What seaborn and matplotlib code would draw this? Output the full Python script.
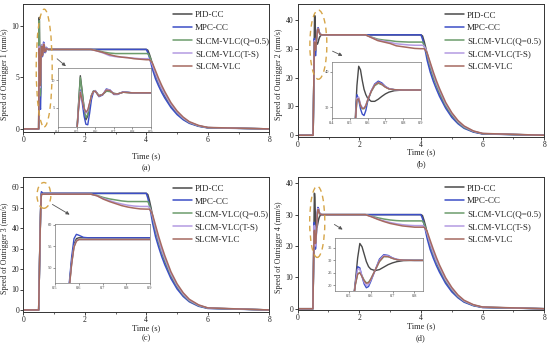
import numpy as np
import pandas as pd
import matplotlib
matplotlib.use("Agg")
import matplotlib.pyplot as plt
import seaborn as sns
from matplotlib.patches import Ellipse
from matplotlib.lines import Line2D

sns.set_style("ticks")
plt.rcParams['font.family'] = ['Liberation Serif', 'DejaVu Serif']

W, H = 550, 346

methods = ["PID-CC", "MPC-CC", "SLCM-VLC(Q=0.5)", "SLCM-VLC(T-S)", "SLCM-VLC"]
colors = ["#4a4a4a", "#3c4ec6", "#6c9c6c", "#b49be2", "#a66a60"]

# common time base (s)
time_s = [0, 0.5, 0.51, 0.52, 0.53, 0.54, 0.55, 0.56, 0.57, 0.58, 0.59, 0.6,
          0.62, 0.64, 0.66, 0.68, 0.7, 0.72, 0.75, 0.8, 0.9, 1.0,
          2.0, 2.2, 2.4, 2.6, 2.8, 3.0, 3.2, 3.4, 3.6, 3.8, 4.0,
          4.05, 4.1, 4.15, 4.2, 4.3, 4.4, 4.5, 4.6, 4.8, 5.0, 5.2, 5.4, 5.7, 6.0, 8.0]

# ---- outrigger 1 (mm/s)
pid_1 = [0, 0, 5.5, 10.8, 8.0, 5.0, 2.8, 3.5, 5.5, 7.2, 8.0, 8.1, 7.2, 7.4, 8.0, 8.0, 7.6, 7.5, 7.8, 7.7, 7.7, 7.7,
         7.7, 7.7, 7.7, 7.7, 7.7, 7.7, 7.7, 7.7, 7.7, 7.7, 7.7,
         7.62, 7.24, 6.78, 6.24, 5.24, 4.47, 3.85, 3.23, 2.23, 1.54, 0.96, 0.6, 0.28, 0.12, 0]
mpc_1 = [0, 0, 4.5, 8.2, 6.0, 3.5, 2.0, 1.9, 4.0, 6.5, 7.8, 8.1, 7.0, 7.3, 8.4, 8.2, 7.4, 7.4, 7.9, 7.7, 7.7, 7.7,
         7.7, 7.7, 7.7, 7.7, 7.7, 7.7, 7.7, 7.7, 7.7, 7.7, 7.7,
         7.39, 6.93, 6.39, 5.78, 4.85, 4.16, 3.54, 3.0, 2.08, 1.39, 0.89, 0.54, 0.25, 0.1, 0]
q05_1 = [0, 0, 5.3, 10.5, 7.8, 5.2, 3.2, 3.8, 5.7, 7.3, 8.0, 8.0, 7.2, 7.4, 8.0, 7.9, 7.6, 7.5, 7.8, 7.7, 7.7, 7.7,
         7.7, 7.7, 7.6, 7.45, 7.35, 7.3, 7.3, 7.3, 7.3, 7.3, 7.3,
         7.3, 7.08, 6.72, 6.28, 5.4, 4.6, 3.94, 3.36, 2.34, 1.61, 1.02, 0.62, 0.29, 0.12, 0]
ts_1 = [0, 0, 4.8, 8.0, 6.5, 4.8, 4.0, 4.4, 5.8, 7.2, 7.9, 8.1, 7.1, 7.4, 8.3, 8.2, 7.5, 7.45, 7.85, 7.7, 7.7, 7.7,
        7.7, 7.7, 7.55, 7.35, 7.1, 7.0, 6.95, 6.9, 6.85, 6.8, 6.8,
        6.8, 6.73, 6.53, 6.19, 5.37, 4.62, 3.94, 3.4, 2.38, 1.63, 1.05, 0.65, 0.31, 0.13, 0]
vlc_1 = [0, 0, 4.7, 7.8, 6.4, 4.9, 4.2, 4.6, 5.9, 7.2, 7.9, 8.0, 7.1, 7.4, 8.2, 8.1, 7.5, 7.5, 7.8, 7.7, 7.7, 7.7,
         7.7, 7.7, 7.55, 7.4, 7.2, 7.05, 6.95, 6.9, 6.8, 6.75, 6.7,
         6.7, 6.7, 6.57, 6.37, 5.63, 4.89, 4.22, 3.62, 2.55, 1.74, 1.14, 0.7, 0.34, 0.14, 0]

# ---- outrigger 2
pid_2 = [0, 0, 8, 16, 26, 36, 41.5, 40.5, 37.5, 35, 33.5, 32.5, 31.6, 31.6, 32.2, 33.0, 33.7, 34.2, 34.6, 34.8, 34.8, 34.8,
         34.8, 34.8, 34.8, 34.8, 34.8, 34.8, 34.8, 34.8, 34.8, 34.8, 34.8,
         34.4, 32.6, 30.5, 28.1, 23.6, 20.1, 17.4, 14.6, 10.1, 6.9, 4.3, 2.7, 1.25, 0.5, 0]
mpc_2 = [0, 0, 8, 16, 25, 33.5, 32.0, 29.5, 28.0, 27.6, 29.0, 31.5, 34.5, 36.5, 37.3, 36.8, 35.8, 35.2, 34.9, 34.8, 34.8, 34.8,
         34.8, 34.8, 34.8, 34.8, 34.8, 34.8, 34.8, 34.8, 34.8, 34.8, 34.8,
         33.3, 31.2, 28.8, 26.0, 21.9, 18.7, 16.0, 13.5, 9.4, 6.2, 4.0, 2.4, 1.1, 0.45, 0]
q05_2 = [0, 0, 8, 16, 25, 32, 32.5, 30.5, 29.5, 29.5, 30.3, 31.8, 34.3, 36.0, 36.7, 36.3, 35.6, 35.1, 34.9, 34.8, 34.8, 34.8,
         34.8, 34.8, 34.0, 33.3, 33.0, 32.8, 32.5, 32.4, 32.3, 32.3, 32.3,
         32.3, 31.3, 29.7, 27.8, 23.9, 20.3, 17.4, 14.9, 10.3, 7.1, 4.5, 2.7, 1.3, 0.55, 0]
ts_2 = [0, 0, 8, 16, 25, 32.5, 32.8, 30.8, 29.8, 29.7, 30.5, 32, 34.5, 36.3, 37.0, 36.5, 35.7, 35.2, 34.9, 34.8, 34.8, 34.8,
        34.8, 34.8, 33.9, 33.0, 32.6, 32.2, 31.7, 31.5, 31.3, 31.2, 31.2,
        31.2, 30.9, 30.0, 28.4, 24.6, 21.2, 18.1, 15.6, 10.9, 7.5, 4.8, 3.0, 1.4, 0.6, 0]
vlc_2 = [0, 0, 8, 16, 25, 32, 32.3, 30.5, 29.6, 29.6, 30.4, 31.9, 34.4, 36.2, 36.9, 36.4, 35.6, 35.1, 34.9, 34.8, 34.8, 34.8,
         34.8, 34.8, 33.8, 32.8, 32.3, 31.8, 31.0, 30.7, 30.4, 30.1, 30.0,
         30.0, 30.0, 29.4, 28.5, 25.2, 21.9, 18.9, 16.2, 11.4, 7.8, 5.1, 3.2, 1.5, 0.63, 0]

# ---- outrigger 3
pid_3 = [0, 0, 8, 16, 24, 32, 39.5, 46, 51.5, 55.5, 56.8, 57.0, 57, 57, 57, 57, 57, 57, 57, 57, 57, 57,
         57, 57, 57, 57, 57, 57, 57, 57, 57, 57, 57,
         56.4, 53.6, 50.2, 46.2, 38.8, 33.1, 28.5, 23.9, 16.5, 11.4, 7.1, 4.4, 2.1, 0.86, 0]
mpc_3 = [0, 0, 8, 16, 24, 32, 39.5, 46.5, 52.5, 56.8, 57.8, 57.6, 57.1, 57.0, 57, 57, 57, 57, 57, 57, 57, 57,
         57, 57, 57, 57, 57, 57, 57, 57, 57, 57, 57,
         54.7, 51.3, 47.3, 42.8, 35.9, 30.8, 26.2, 22.2, 15.4, 10.3, 6.6, 4.0, 1.8, 0.74, 0]
q05_3 = [0, 0, 8, 16, 24, 32, 39, 45.5, 51, 55, 56.3, 56.6, 56.6, 56.6, 56.6, 56.6, 56.6, 56.6, 56.6, 56.6, 56.6, 56.6,
         56.6, 56.6, 56.0, 55.0, 54.3, 53.8, 53.3, 53.0, 53.0, 53.0, 53.0,
         53.0, 51.4, 48.8, 45.6, 39.2, 33.4, 28.6, 24.4, 17.0, 11.7, 7.4, 4.5, 2.1, 0.9, 0]
ts_3 = [0, 0, 8, 16, 24, 32, 39, 45.5, 51, 55, 56.3, 56.6, 56.6, 56.6, 56.6, 56.6, 56.6, 56.6, 56.6, 56.6, 56.6, 56.6,
        56.6, 56.6, 55.8, 54.5, 53.5, 52.5, 51.8, 51.2, 50.8, 50.6, 50.6,
        50.6, 50.1, 48.6, 46.0, 40.0, 34.4, 29.3, 25.3, 17.7, 12.1, 7.8, 4.8, 2.3, 0.96, 0]
vlc_3 = [0, 0, 8, 16, 24, 32, 39, 45.3, 50.8, 54.8, 56.2, 56.6, 56.6, 56.6, 56.6, 56.6, 56.6, 56.6, 56.6, 56.6, 56.6, 56.6,
         56.6, 56.6, 55.8, 54.2, 53.0, 52.0, 51.0, 50.3, 49.8, 49.4, 49.3,
         49.3, 49.3, 48.3, 46.8, 41.4, 36.0, 31.1, 26.6, 18.7, 12.8, 8.4, 5.2, 2.5, 1.0, 0]

# ---- outrigger 4
pid_4 = [0, 0, 7, 14, 22, 31, 36.8, 35.5, 32.5, 29.5, 27.5, 26.5, 25.9, 26.3, 27.3, 28.3, 29.0, 29.5, 29.9, 30, 30, 30,
         30, 30, 30, 30, 30, 30, 30, 30, 30, 30, 30,
         29.7, 28.2, 26.4, 24.3, 20.4, 17.4, 15.0, 12.6, 8.7, 6.0, 3.75, 2.3, 1.1, 0.45, 0]
mpc_4 = [0, 0, 7, 14, 21, 27.5, 27, 23.5, 20.5, 19.0, 19.5, 21.5, 26, 30.5, 32.3, 32.0, 31.0, 30.4, 30.1, 30, 30, 30,
         30, 30, 30, 30, 30, 30, 30, 30, 30, 30, 30,
         28.8, 27.0, 24.9, 22.5, 18.9, 16.2, 13.8, 11.7, 8.1, 5.4, 3.5, 2.1, 0.96, 0.39, 0]
q05_4 = [0, 0, 7, 14, 20.5, 24.5, 25.2, 23.8, 22, 21, 21.2, 22.5, 26, 29.5, 31.5, 31.5, 30.8, 30.3, 30.1, 30, 30, 30,
         30, 30, 29.5, 29.0, 28.6, 28.3, 28.1, 28.0, 28.0, 28.0, 28.0,
         28.0, 27.2, 25.8, 24.1, 20.7, 17.6, 15.1, 12.9, 9.0, 6.2, 3.9, 2.4, 1.1, 0.48, 0]
ts_4 = [0, 0, 7, 14, 21, 26.5, 26.5, 23.8, 21.2, 20, 20.3, 22, 26, 30, 32, 31.8, 30.9, 30.4, 30.1, 30, 30, 30,
        30, 30, 29.4, 28.6, 28.0, 27.5, 27.1, 26.8, 26.6, 26.5, 26.5,
        26.5, 26.2, 25.4, 24.1, 20.9, 18.0, 15.4, 13.3, 9.3, 6.4, 4.1, 2.5, 1.2, 0.5, 0]
vlc_4 = [0, 0, 7, 14, 20.5, 24.5, 25.0, 23.5, 21.8, 20.8, 21.0, 22.4, 26, 29.6, 31.6, 31.5, 30.8, 30.3, 30.1, 30, 30, 30,
         30, 30, 29.3, 28.5, 27.8, 27.2, 26.8, 26.4, 26.2, 26.0, 26.0,
         26.0, 26.0, 25.5, 24.7, 21.8, 19.0, 16.4, 14.0, 9.9, 6.8, 4.4, 2.7, 1.3, 0.55, 0]


def px_rect(l, t, r, b):
    return [l / W, 1 - b / H, (r - l) / W, (b - t) / H]


def long_frame(series):
    parts = []
    for name, vals in zip(methods, series):
        parts.append(pd.DataFrame({"t": time_s, "v": vals, "method": name}))
    return pd.concat(parts, ignore_index=True)


fig = plt.figure(figsize=(5.5, 3.46), dpi=100)

panels = [
    dict(series=[pid_1, mpc_1, q05_1, ts_1, vlc_1], box=(23.3, 4, 269.3, 132), ylim=(-0.3, 12.1),
         yticks=[0, 5, 10], inbox=(58, 68, 151, 127), in_xlim=(0.4, 0.9), in_ylim=(1.5, 12.2),
         in_xticks=[0.4, 0.5, 0.6, 0.7, 0.8, 0.9], in_yticks=[5, 10],
         ell=(0.68, 5.9, 0.52, 11.4), arrow=((55, 57), (68, 68)), tag="(a)", xl=(146, 156), tg=(146, 168),
         leg=(0.608, 0.945), ylc=(-0.06, 0.45), n=1),
    dict(series=[pid_2, mpc_2, q05_2, ts_2, vlc_2], box=(297.7, 4, 544.3, 136.7), ylim=(-0.5, 45.5),
         yticks=[0, 10, 20, 30, 40], inbox=(332, 62, 421, 118), in_xlim=(0.4, 0.9), in_ylim=(26.9, 42.7),
         in_xticks=[0.4, 0.5, 0.6, 0.7, 0.8, 0.9], in_yticks=[30, 40],
         ell=(0.67, 31.4, 0.55, 24), arrow=((330, 50), (345, 57)), tag="(b)", xl=(421, 152.5), tg=(421, 164),
         leg=(0.597, 0.945), ylc=(-0.058, 0.47), n=2),
    dict(series=[pid_3, mpc_3, q05_3, ts_3, vlc_3], box=(23.3, 177, 269.3, 312), ylim=(-1, 65),
         yticks=[0, 10, 20, 30, 40, 50, 60], inbox=(55, 224, 150, 283), in_xlim=(0.5, 0.9), in_ylim=(46.5, 60.2),
         in_xticks=[0.5, 0.6, 0.7, 0.8, 0.9], in_yticks=[50, 55, 60],
         ell=(0.67, 56, 0.45, 12.6), arrow=((50, 203), (72, 216)), tag="(c)", xl=(146, 328), tg=(146, 338),
         leg=(0.607, 0.945), ylc=(-0.06, 0.47), n=3),
    dict(series=[pid_4, mpc_4, q05_4, ts_4, vlc_4], box=(297.5, 177, 544.3, 310.3), ylim=(-0.5, 42),
         yticks=[0, 10, 20, 30, 40], inbox=(335, 238, 423, 291), in_xlim=(0.436, 0.84), in_ylim=(17.7, 39),
         in_xticks=[0.5, 0.6, 0.7, 0.8], in_yticks=[20, 25, 30, 35],
         ell=(0.64, 27.7, 0.49, 22.7), arrow=((332, 223), (345, 231)), tag="(d)", xl=(421, 326), tg=(421, 338),
         leg=(0.597, 0.945), ylc=(-0.058, 0.47), n=4),
]

for p in panels:
    df = long_frame(p["series"])
    ax = fig.add_axes(px_rect(*p["box"]))
    sns.lineplot(data=df, x="t", y="v", hue="method", hue_order=methods, palette=colors,
                 sort=False, estimator=None, linewidth=1.1, legend=False, ax=ax)
    ax.set_xlim(0, 8)
    ax.set_ylim(*p["ylim"])
    ax.set_xticks([0, 2, 4, 6, 8])
    ax.set_xticks([1, 3, 5, 7], minor=True)
    ax.set_yticks(p["yticks"])
    ax.tick_params(labelsize=5.5, length=2, width=0.6, pad=1, colors="#222222")
    ax.tick_params(which="minor", length=1.3, width=0.5)
    for s in ax.spines.values():
        s.set_visible(True)
        s.set_linewidth(0.7)
        s.set_color("#333333")
    ax.set_xlabel("")
    ax.set_ylabel("Speed of Outrigger %d (mm/s)" % p["n"], fontsize=5.7)
    ax.yaxis.set_label_coords(*p["ylc"])

    cx, cy, ew, eh = p["ell"]
    ax.add_patch(Ellipse((cx, cy), ew, eh, fill=False, ls=(0, (4, 3)), lw=1.0, color="#d6a548", zorder=5))

    handles = [Line2D([], [], color=c, lw=1.1) for c in colors]
    ax.legend(handles, methods, loc="upper left", bbox_to_anchor=p["leg"], frameon=False,
              fontsize=6.5, borderaxespad=0, borderpad=0, handlelength=2.1, handletextpad=0.35,
              labelspacing=0.5)

    (x0, y0), (x1, y1) = p["arrow"]
    fig.add_artist(plt.Annotation("", xy=(x1, H - y1), xytext=(x0, H - y0),
                                  xycoords="figure pixels", textcoords="figure pixels",
                                  arrowprops=dict(arrowstyle="-|>", color="#555555", lw=0.6,
                                                  mutation_scale=5)))

    axi = fig.add_axes(px_rect(*p["inbox"]))
    sns.lineplot(data=df, x="t", y="v", hue="method", hue_order=methods, palette=colors,
                 sort=False, estimator=None, linewidth=1.0, legend=False, ax=axi)
    axi.set_xlim(*p["in_xlim"])
    axi.set_ylim(*p["in_ylim"])
    axi.set_xticks(p["in_xticks"])
    axi.set_xticklabels(["%.1f" % v for v in p["in_xticks"]])
    axi.set_yticks(p["in_yticks"])
    axi.tick_params(labelsize=3.2, length=1.2, width=0.4, pad=1, colors="#444444")
    axi.set_xlabel("")
    axi.set_ylabel("")
    for s in axi.spines.values():
        s.set_visible(True)
        s.set_linewidth(0.5)
        s.set_color("#777777")

    fig.text(p["xl"][0] / W, 1 - p["xl"][1] / H, "Time (s)", fontsize=6, ha="center", va="center")
    fig.text(p["tg"][0] / W, 1 - p["tg"][1] / H, p["tag"], fontsize=6, ha="center", va="center")

fig.savefig("out.png", dpi=100)
